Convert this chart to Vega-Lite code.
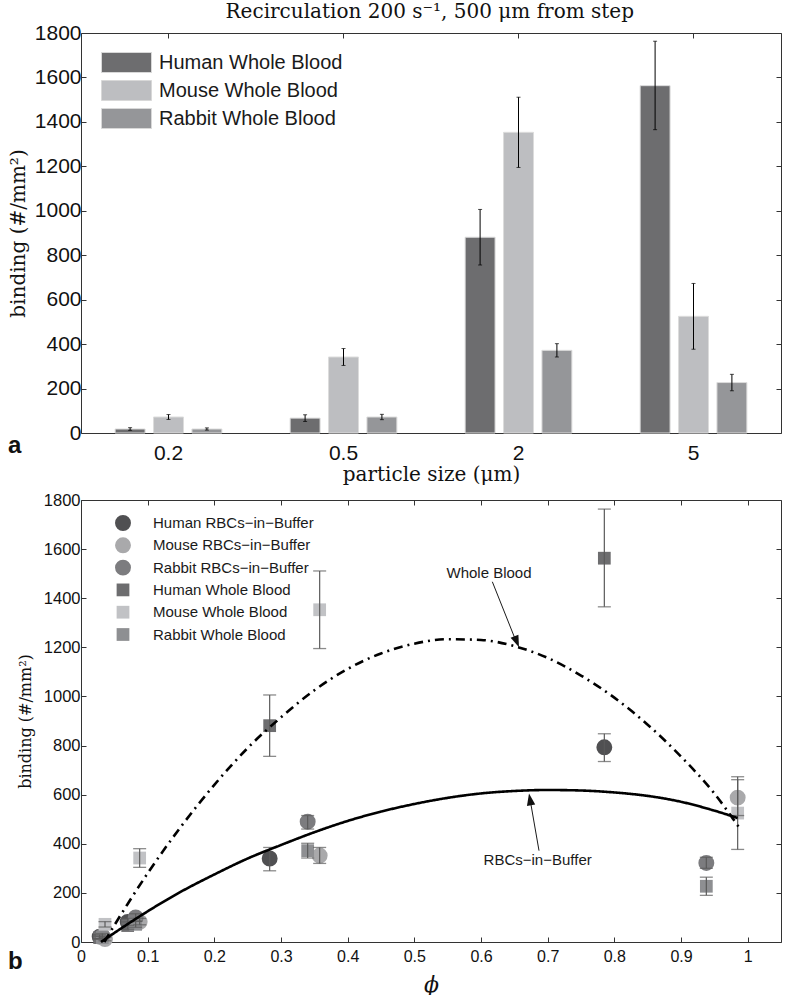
{
  "$schema": "https://vega.github.io/schema/vega-lite/v6.json",
  "padding": {"left": 7, "top": 1, "right": 0, "bottom": 0},
  "title": {"text": "Recirculation 200 s⁻¹, 500 μm from step", "font": "DejaVu Serif", "fontSize": 20, "fontWeight": "normal", "color": "#111", "anchor": "middle", "offset": 0, "dx": 35},
  "spacing": 6,
  "config": {
    "view": {"stroke": "#333", "strokeWidth": 1},
    "axis": {"domain": false, "grid": false, "tickColor": "#333", "tickSize": -5, "labelColor": "#111", "titleColor": "#111", "titleFontWeight": "normal", "labelFont": "Liberation Sans"}
  },
  "resolve": {"scale": {"color": "independent", "shape": "independent", "x": "independent", "y": "independent"}, "legend": {"color": "independent", "shape": "independent"}},
  "vconcat": [
    {
      "width": 700,
      "height": 400,
      "title": {"text": "a", "orient": "bottom", "anchor": "start", "frame": "group", "dx": -73, "offset": -50, "font": "Liberation Sans", "fontSize": 24, "fontWeight": "bold", "color": "#111"},
      "data": {"values": [
        {"size": "0.2", "species": "Human Whole Blood", "binding": 18, "lo": 12, "hi": 24},
        {"size": "0.2", "species": "Mouse Whole Blood", "binding": 72, "lo": 61, "hi": 83},
        {"size": "0.2", "species": "Rabbit Whole Blood", "binding": 18, "lo": 13, "hi": 23},
        {"size": "0.5", "species": "Human Whole Blood", "binding": 67, "lo": 52, "hi": 82},
        {"size": "0.5", "species": "Mouse Whole Blood", "binding": 342, "lo": 304, "hi": 380},
        {"size": "0.5", "species": "Rabbit Whole Blood", "binding": 72, "lo": 60, "hi": 84},
        {"size": "2", "species": "Human Whole Blood", "binding": 881, "lo": 756, "hi": 1006},
        {"size": "2", "species": "Mouse Whole Blood", "binding": 1353, "lo": 1195, "hi": 1511},
        {"size": "2", "species": "Rabbit Whole Blood", "binding": 372, "lo": 342, "hi": 402},
        {"size": "5", "species": "Human Whole Blood", "binding": 1563, "lo": 1365, "hi": 1763},
        {"size": "5", "species": "Mouse Whole Blood", "binding": 525, "lo": 377, "hi": 673},
        {"size": "5", "species": "Rabbit Whole Blood", "binding": 227, "lo": 190, "hi": 264}
      ]},
      "encoding": {
        "xOffset": {"field": "species", "type": "nominal", "sort": ["Human Whole Blood", "Mouse Whole Blood", "Rabbit Whole Blood"], "scale": {"paddingInner": 0.22, "paddingOuter": 0}}
      },
      "layer": [
        {
          "mark": {"type": "bar", "stroke": "#dcdcdc", "strokeWidth": 1},
          "encoding": {
            "x": {"field": "size", "type": "nominal", "sort": ["0.2", "0.5", "2", "5"], "scale": {"paddingInner": 0.39, "paddingOuter": 0.195}, "axis": {"title": "particle size (μm)", "labelAngle": 0, "labelFontSize": 21, "labelPadding": 9, "titleFont": "DejaVu Serif", "titleFontSize": 20, "titlePadding": 1, "ticks": false}},
            "y": {"field": "binding", "type": "quantitative", "scale": {"domain": [0, 1800], "nice": false}, "axis": {"title": "binding (#/mm²)", "values": [0, 200, 400, 600, 800, 1000, 1200, 1400, 1600, 1800], "format": "d", "labelFontSize": 21, "labelPadding": 5, "titleFont": "DejaVu Serif", "titleFontSize": 20, "titlePadding": 6}},
            "color": {"field": "species", "type": "nominal", "sort": ["Human Whole Blood", "Mouse Whole Blood", "Rabbit Whole Blood"], "scale": {"domain": ["Human Whole Blood", "Mouse Whole Blood", "Rabbit Whole Blood"], "range": ["#6d6d6f", "#bdbec1", "#959699"]},
              "legend": {"title": null, "orient": "none", "legendX": 20, "legendY": 19, "symbolType": "M-1,-1H4V1H-1Z", "symbolSize": 400, "symbolStrokeColor": "#d8d8d8", "symbolStrokeWidth": 1, "labelOffset": 37, "labelFontSize": 20, "labelFont": "Liberation Sans", "labelColor": "#1a1a1a", "labelLimit": 300, "rowPadding": 3, "padding": 0}}
          }
        },
        {
          "mark": {"type": "rule", "color": "black", "strokeWidth": 1},
          "encoding": {
            "x": {"field": "size", "type": "nominal", "sort": ["0.2", "0.5", "2", "5"], "axis": null},
            "y": {"field": "lo", "type": "quantitative", "axis": null},
            "y2": {"field": "hi"}
          }
        },
        {
          "mark": {"type": "tick", "color": "black", "thickness": 1, "size": 4, "orient": "horizontal"},
          "encoding": {
            "x": {"field": "size", "type": "nominal", "sort": ["0.2", "0.5", "2", "5"], "axis": null},
            "y": {"field": "lo", "type": "quantitative", "axis": null}
          }
        },
        {
          "mark": {"type": "tick", "color": "black", "thickness": 1, "size": 4, "orient": "horizontal"},
          "encoding": {
            "x": {"field": "size", "type": "nominal", "sort": ["0.2", "0.5", "2", "5"], "axis": {"orient": "top", "labels": false, "title": null}},
            "y": {"field": "hi", "type": "quantitative", "axis": {"orient": "right", "labels": false, "title": null, "values": [0, 200, 400, 600, 800, 1000, 1200, 1400, 1600, 1800]}}
          }
        }
      ],
      "resolve": {"axis": {"x": "independent", "y": "independent"}}
    },
    {
      "width": 700,
      "height": 442,
      "title": {"text": "b", "orient": "bottom", "anchor": "start", "frame": "group", "dx": -73, "offset": -45, "font": "Liberation Sans", "fontSize": 24, "fontWeight": "bold", "color": "#111"},
      "layer": [
        {
          "data": {"name": "pts", "values": [
            {"series": "Human RBCs−in−Buffer", "phi": 0.028, "binding": 22, "lo": 14, "hi": 30},
            {"series": "Human RBCs−in−Buffer", "phi": 0.07, "binding": 82, "lo": 68, "hi": 96},
            {"series": "Human RBCs−in−Buffer", "phi": 0.283, "binding": 340, "lo": 290, "hi": 385},
            {"series": "Human RBCs−in−Buffer", "phi": 0.785, "binding": 793, "lo": 735, "hi": 848},
            {"series": "Mouse RBCs−in−Buffer", "phi": 0.036, "binding": 12, "lo": 5, "hi": 19},
            {"series": "Mouse RBCs−in−Buffer", "phi": 0.088, "binding": 82, "lo": 70, "hi": 96},
            {"series": "Mouse RBCs−in−Buffer", "phi": 0.358, "binding": 352, "lo": 320, "hi": 385},
            {"series": "Mouse RBCs−in−Buffer", "phi": 0.985, "binding": 588, "lo": 515, "hi": 661},
            {"series": "Rabbit RBCs−in−Buffer", "phi": 0.032, "binding": 25, "lo": 15, "hi": 35},
            {"series": "Rabbit RBCs−in−Buffer", "phi": 0.082, "binding": 100, "lo": 85, "hi": 115},
            {"series": "Rabbit RBCs−in−Buffer", "phi": 0.34, "binding": 490, "lo": 460, "hi": 515},
            {"series": "Rabbit RBCs−in−Buffer", "phi": 0.938, "binding": 322, "lo": 300, "hi": 345},
            {"series": "Human Whole Blood", "phi": 0.028, "binding": 18, "lo": 12, "hi": 24},
            {"series": "Human Whole Blood", "phi": 0.07, "binding": 67, "lo": 52, "hi": 82},
            {"series": "Human Whole Blood", "phi": 0.283, "binding": 881, "lo": 756, "hi": 1006},
            {"series": "Human Whole Blood", "phi": 0.785, "binding": 1563, "lo": 1365, "hi": 1763},
            {"series": "Mouse Whole Blood", "phi": 0.036, "binding": 72, "lo": 61, "hi": 83},
            {"series": "Mouse Whole Blood", "phi": 0.088, "binding": 342, "lo": 304, "hi": 380},
            {"series": "Mouse Whole Blood", "phi": 0.358, "binding": 1353, "lo": 1195, "hi": 1511},
            {"series": "Mouse Whole Blood", "phi": 0.985, "binding": 525, "lo": 377, "hi": 673},
            {"series": "Rabbit Whole Blood", "phi": 0.032, "binding": 18, "lo": 13, "hi": 23},
            {"series": "Rabbit Whole Blood", "phi": 0.082, "binding": 72, "lo": 60, "hi": 84},
            {"series": "Rabbit Whole Blood", "phi": 0.34, "binding": 372, "lo": 342, "hi": 402},
            {"series": "Rabbit Whole Blood", "phi": 0.938, "binding": 227, "lo": 190, "hi": 264}
          ]},
          "mark": {"type": "point", "filled": true, "size": 254, "opacity": 1},
          "encoding": {
            "x": {"field": "phi", "type": "quantitative", "scale": {"domain": [0, 1.05], "nice": false, "zero": false}, "axis": {"title": "ϕ", "values": [0, 0.1, 0.2, 0.3, 0.4, 0.5, 0.6, 0.7, 0.8, 0.9, 1], "format": ".1~f", "labelFontSize": 16, "labelPadding": 11, "labelFlush": false, "titleFont": "DejaVu Serif", "titleFontStyle": "italic", "titleFontSize": 22, "titlePadding": 10}},
            "y": {"field": "binding", "type": "quantitative", "scale": {"domain": [0, 1800], "nice": false}, "axis": {"title": "binding (#/mm²)", "values": [0, 200, 400, 600, 800, 1000, 1200, 1400, 1600, 1800], "format": "d", "labelFontSize": 16.5, "labelPadding": 6, "labelFlush": false, "titleFont": "DejaVu Serif", "titleFontSize": 16, "titlePadding": 10}},
            "color": {"field": "series", "type": "nominal", "scale": {"domain": ["Human RBCs−in−Buffer", "Mouse RBCs−in−Buffer", "Rabbit RBCs−in−Buffer", "Human Whole Blood", "Mouse Whole Blood", "Rabbit Whole Blood"], "range": ["#505052", "#a9a9ab", "#7c7c7f", "#6d6d6f", "#c1c2c5", "#8e8f92"]},
              "legend": {"title": null, "orient": "none", "legendX": 33, "legendY": 14, "symbolSize": 254, "labelOffset": 21, "labelFontSize": 15, "labelFont": "Liberation Sans", "labelColor": "#1a1a1a", "labelLimit": 300, "rowPadding": 5.3, "padding": 0}},
            "shape": {"field": "series", "type": "nominal", "scale": {"domain": ["Human RBCs−in−Buffer", "Mouse RBCs−in−Buffer", "Rabbit RBCs−in−Buffer", "Human Whole Blood", "Mouse Whole Blood", "Rabbit Whole Blood"], "range": ["circle", "circle", "circle", "M-0.8,-0.8H0.8V0.8H-0.8Z", "M-0.8,-0.8H0.8V0.8H-0.8Z", "M-0.8,-0.8H0.8V0.8H-0.8Z"]}}
          }
        },
        {
          "data": {"name": "pts"},
          "mark": {"type": "rule", "color": "#5a5a5a", "strokeWidth": 1.2},
          "encoding": {
            "x": {"field": "phi", "type": "quantitative", "axis": null},
            "y": {"field": "lo", "type": "quantitative", "axis": null},
            "y2": {"field": "hi"}
          }
        },
        {
          "data": {"name": "pts"},
          "mark": {"type": "tick", "color": "#5a5a5a", "thickness": 1.3, "size": 13, "orient": "horizontal"},
          "encoding": {
            "x": {"field": "phi", "type": "quantitative", "axis": null},
            "y": {"field": "lo", "type": "quantitative", "axis": null}
          }
        },
        {
          "data": {"name": "pts"},
          "mark": {"type": "tick", "color": "#5a5a5a", "thickness": 1.3, "size": 13, "orient": "horizontal"},
          "encoding": {
            "x": {"field": "phi", "type": "quantitative", "axis": null},
            "y": {"field": "hi", "type": "quantitative", "axis": null}
          }
        },
        {
          "data": {"values": [
            {"curve": "WB", "phi": 0.035, "binding": 0}, {"curve": "WB", "phi": 0.05, "binding": 68}, {"curve": "WB", "phi": 0.07, "binding": 155}, {"curve": "WB", "phi": 0.1, "binding": 280}, {"curve": "WB", "phi": 0.15, "binding": 470}, {"curve": "WB", "phi": 0.2, "binding": 640}, {"curve": "WB", "phi": 0.25, "binding": 790}, {"curve": "WB", "phi": 0.3, "binding": 915}, {"curve": "WB", "phi": 0.35, "binding": 1025}, {"curve": "WB", "phi": 0.4, "binding": 1112}, {"curve": "WB", "phi": 0.45, "binding": 1175}, {"curve": "WB", "phi": 0.5, "binding": 1215}, {"curve": "WB", "phi": 0.55, "binding": 1233}, {"curve": "WB", "phi": 0.6, "binding": 1230}, {"curve": "WB", "phi": 0.65, "binding": 1205}, {"curve": "WB", "phi": 0.7, "binding": 1157}, {"curve": "WB", "phi": 0.75, "binding": 1085}, {"curve": "WB", "phi": 0.8, "binding": 995}, {"curve": "WB", "phi": 0.85, "binding": 885}, {"curve": "WB", "phi": 0.9, "binding": 755}, {"curve": "WB", "phi": 0.95, "binding": 605}, {"curve": "WB", "phi": 0.99, "binding": 455},
            {"curve": "RBC", "phi": 0.03, "binding": 0}, {"curve": "RBC", "phi": 0.06, "binding": 55}, {"curve": "RBC", "phi": 0.1, "binding": 125}, {"curve": "RBC", "phi": 0.15, "binding": 205}, {"curve": "RBC", "phi": 0.2, "binding": 275}, {"curve": "RBC", "phi": 0.25, "binding": 340}, {"curve": "RBC", "phi": 0.3, "binding": 395}, {"curve": "RBC", "phi": 0.35, "binding": 447}, {"curve": "RBC", "phi": 0.4, "binding": 493}, {"curve": "RBC", "phi": 0.45, "binding": 531}, {"curve": "RBC", "phi": 0.5, "binding": 562}, {"curve": "RBC", "phi": 0.55, "binding": 587}, {"curve": "RBC", "phi": 0.6, "binding": 605}, {"curve": "RBC", "phi": 0.65, "binding": 615}, {"curve": "RBC", "phi": 0.7, "binding": 619}, {"curve": "RBC", "phi": 0.75, "binding": 617}, {"curve": "RBC", "phi": 0.8, "binding": 609}, {"curve": "RBC", "phi": 0.85, "binding": 595}, {"curve": "RBC", "phi": 0.9, "binding": 571}, {"curve": "RBC", "phi": 0.95, "binding": 535}, {"curve": "RBC", "phi": 0.985, "binding": 505}
          ]},
          "mark": {"type": "line", "color": "black", "strokeWidth": 2.6, "interpolate": "monotone"},
          "encoding": {
            "x": {"field": "phi", "type": "quantitative", "axis": {"orient": "top", "labels": false, "title": null, "values": [0, 0.1, 0.2, 0.3, 0.4, 0.5, 0.6, 0.7, 0.8, 0.9, 1]}},
            "y": {"field": "binding", "type": "quantitative", "axis": {"orient": "right", "labels": false, "title": null, "values": [0, 200, 400, 600, 800, 1000, 1200, 1400, 1600, 1800]}},
            "strokeDash": {"field": "curve", "type": "nominal", "scale": {"domain": ["RBC", "WB"], "range": [[1, 0], [9, 5, 2, 5]]}, "legend": null},
            "detail": {"field": "curve"}
          }
        },
        {
          "data": {"values": [
            {"label": "Whole Blood", "phi": 0.612, "binding": 1502},
            {"label": "RBCs−in−Buffer", "phi": 0.685, "binding": 334}
          ]},
          "mark": {"type": "text", "font": "Liberation Sans", "fontSize": 15, "color": "#1a1a1a"},
          "encoding": {
            "x": {"field": "phi", "type": "quantitative", "axis": null},
            "y": {"field": "binding", "type": "quantitative", "axis": null},
            "text": {"field": "label"}
          }
        },
        {
          "data": {"values": [
            {"phi": 0.617, "binding": 1467, "phi2": 0.654, "binding2": 1215},
            {"phi": 0.687, "binding": 372, "phi2": 0.673, "binding2": 590}
          ]},
          "mark": {"type": "rule", "color": "#1a1a1a", "strokeWidth": 1},
          "encoding": {
            "x": {"field": "phi", "type": "quantitative", "axis": null},
            "y": {"field": "binding", "type": "quantitative", "axis": null},
            "x2": {"field": "phi2"},
            "y2": {"field": "binding2"}
          }
        },
        {
          "data": {"values": [{"phi": 0.657, "binding": 1200}]},
          "mark": {"type": "point", "filled": true, "color": "#111", "opacity": 1, "size": 576, "shape": "M0,0L0.35,1L-0.35,1Z", "angle": 158},
          "encoding": {
            "x": {"field": "phi", "type": "quantitative", "axis": null},
            "y": {"field": "binding", "type": "quantitative", "axis": null}
          }
        },
        {
          "data": {"values": [{"phi": 0.672, "binding": 605}]},
          "mark": {"type": "point", "filled": true, "color": "#111", "opacity": 1, "size": 576, "shape": "M0,0L0.35,1L-0.35,1Z", "angle": 350},
          "encoding": {
            "x": {"field": "phi", "type": "quantitative", "axis": null},
            "y": {"field": "binding", "type": "quantitative", "axis": null}
          }
        }
      ],
      "resolve": {"axis": {"x": "independent", "y": "independent"}}
    }
  ]
}
